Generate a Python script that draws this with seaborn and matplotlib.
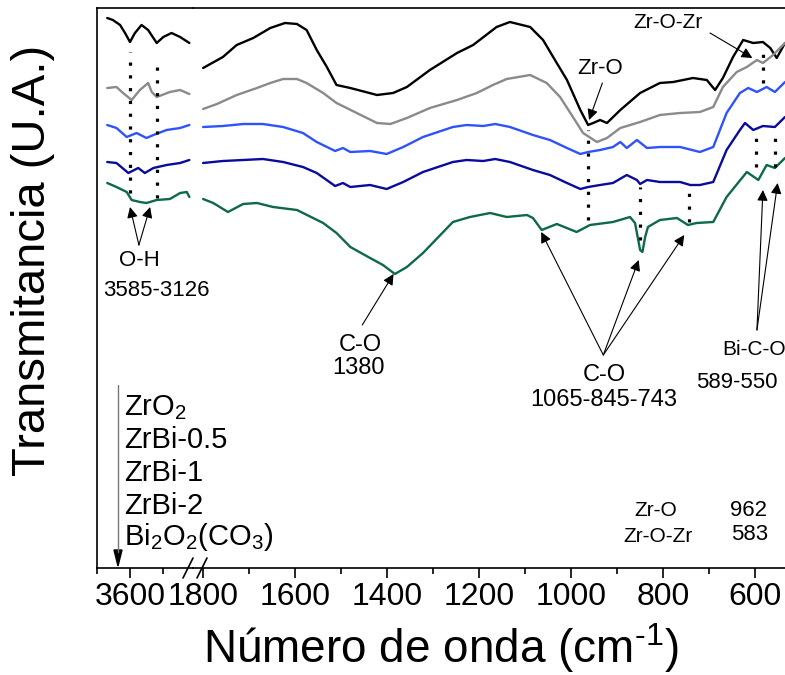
import numpy as np
import pandas as pd
import seaborn as sns
import matplotlib.pyplot as plt
from matplotlib.lines import Line2D
from matplotlib.ticker import MultipleLocator

# Muestras y colores
muestras = ["ZrO$_2$", "ZrBi-0.5", "ZrBi-1", "ZrBi-2", "Bi$_2$O$_2$(CO$_3$)"]
colores = ["#000000", "#8a8a8a", "#2f52ff", "#0a0a9c", "#0c6a44"]

# Tramo principal (1800 - 535 cm-1), transmitancia desplazada (U.A.)
wn_zro2 = [1800, 1757, 1727, 1691, 1654, 1622, 1596, 1575, 1553, 1531, 1510, 1480, 1422, 1387, 1357,
           1307, 1248, 1213, 1162, 1133, 1089, 1061, 1039, 1009, 980, 963, 952, 937, 922, 893, 850,
           807, 778, 735, 705, 687, 670, 648, 626, 604, 583, 567, 553, 535]
t_zro2 = [5.00, 5.11, 5.23, 5.30, 5.40, 5.45, 5.44, 5.38, 5.18, 5.01, 4.83, 4.80, 4.73, 4.75, 4.81,
          4.98, 5.15, 5.23, 5.41, 5.46, 5.41, 5.28, 5.11, 4.88, 4.58, 4.43, 4.45, 4.48, 4.45, 4.58, 4.75,
          4.85, 4.86, 4.90, 4.88, 4.78, 4.90, 5.11, 5.28, 5.25, 5.26, 5.20, 5.10, 5.25]

wn_zrbi05 = [1800, 1770, 1727, 1683, 1654, 1626, 1596, 1575, 1539, 1510, 1466, 1422, 1393, 1357, 1307,
             1248, 1205, 1170, 1140, 1089, 1053, 1024, 996, 974, 944, 922, 893, 850, 807, 763, 720,
             691, 670, 640, 618, 596, 583, 561, 535]
t_zrbi05 = [4.59, 4.64, 4.73, 4.80, 4.85, 4.89, 4.89, 4.85, 4.75, 4.65, 4.55, 4.45, 4.44, 4.50, 4.60,
            4.68, 4.75, 4.83, 4.89, 4.93, 4.85, 4.71, 4.51, 4.35, 4.26, 4.30, 4.40, 4.46, 4.53, 4.55, 4.56,
            4.61, 4.81, 4.96, 5.01, 5.08, 5.05, 5.13, 5.25]

wn_zrbi1 = [1800, 1757, 1713, 1670, 1626, 1583, 1553, 1513, 1496, 1480, 1437, 1401, 1365, 1322, 1257,
            1227, 1191, 1165, 1133, 1083, 1046, 1009, 980, 963, 937, 909, 893, 879, 857, 835, 807,
            763, 720, 691, 662, 633, 615, 596, 575, 557, 535]
t_zrbi1 = [4.41, 4.42, 4.44, 4.44, 4.41, 4.35, 4.26, 4.17, 4.20, 4.16, 4.17, 4.14, 4.21, 4.31, 4.41,
           4.43, 4.42, 4.44, 4.41, 4.33, 4.28, 4.20, 4.14, 4.16, 4.18, 4.21, 4.26, 4.20, 4.28, 4.20, 4.21,
           4.21, 4.16, 4.21, 4.55, 4.75, 4.80, 4.76, 4.81, 4.76, 4.86]

wn_zrbi2 = [1800, 1757, 1713, 1670, 1626, 1583, 1553, 1513, 1496, 1480, 1437, 1401, 1365, 1322, 1257,
            1227, 1191, 1165, 1133, 1083, 1046, 1009, 980, 963, 937, 909, 879, 857, 850, 835, 807,
            763, 741, 720, 691, 662, 633, 622, 604, 583, 557, 535]
t_zrbi2 = [4.05, 4.07, 4.08, 4.09, 4.06, 4.01, 3.95, 3.82, 3.85, 3.81, 3.83, 3.79, 3.86, 3.96, 4.06,
           4.08, 4.07, 4.09, 4.06, 3.98, 3.93, 3.85, 3.79, 3.81, 3.83, 3.85, 3.93, 3.88, 3.84, 3.88, 3.86,
           3.86, 3.83, 3.83, 3.86, 4.18, 4.38, 4.45, 4.38, 4.42, 4.41, 4.51]

wn_bi = [1800, 1778, 1746, 1713, 1683, 1648, 1596, 1539, 1510, 1480, 1437, 1409, 1383, 1357, 1322,
         1257, 1220, 1176, 1140, 1096, 1083, 1064, 1031, 988, 959, 909, 872, 861, 850, 845, 839, 833,
         807, 770, 746, 727, 691, 662, 618, 593, 575, 557, 535]
t_bi = [3.69, 3.65, 3.56, 3.64, 3.65, 3.61, 3.58, 3.45, 3.35, 3.21, 3.10, 3.03, 2.94, 3.01, 3.15,
        3.46, 3.51, 3.55, 3.51, 3.53, 3.50, 3.38, 3.44, 3.36, 3.43, 3.46, 3.51, 3.45, 3.18, 3.16, 3.31, 3.41,
        3.48, 3.50, 3.43, 3.45, 3.46, 3.71, 3.96, 3.88, 4.03, 4.00, 4.10]

# Tramo O-H (3670 - 3420 cm-1)
wnh_zro2 = [3669, 3652, 3630, 3615, 3600, 3585, 3565, 3545, 3519, 3499, 3474, 3448, 3420]
th_zro2 = [5.50, 5.48, 5.43, 5.35, 5.26, 5.35, 5.43, 5.38, 5.25, 5.31, 5.35, 5.31, 5.25]
wnh_zrbi05 = [3669, 3641, 3621, 3595, 3570, 3545, 3534, 3519, 3479, 3448, 3420]
th_zrbi05 = [4.80, 4.81, 4.75, 4.68, 4.78, 4.85, 4.76, 4.71, 4.76, 4.78, 4.74]
wnh_zrbi1 = [3669, 3641, 3610, 3580, 3550, 3529, 3489, 3448, 3420]
th_zrbi1 = [4.43, 4.40, 4.31, 4.35, 4.30, 4.33, 4.38, 4.40, 4.43]
wnh_zrbi2 = [3669, 3641, 3605, 3575, 3555, 3529, 3489, 3448, 3420]
th_zrbi2 = [4.06, 4.05, 3.95, 4.00, 3.95, 4.00, 4.03, 4.05, 4.08]
wnh_bi = [3669, 3641, 3610, 3595, 3570, 3550, 3519, 3479, 3448, 3428, 3420]
th_bi = [3.85, 3.81, 3.76, 3.68, 3.66, 3.65, 3.68, 3.69, 3.75, 3.76, 3.71]

principal = pd.concat([
    pd.DataFrame({"wn": w, "T": t, "muestra": m})
    for w, t, m in zip([wn_zro2, wn_zrbi05, wn_zrbi1, wn_zrbi2, wn_bi],
                       [t_zro2, t_zrbi05, t_zrbi1, t_zrbi2, t_bi], muestras)])
oh = pd.concat([
    pd.DataFrame({"wn": w, "T": t, "muestra": m})
    for w, t, m in zip([wnh_zro2, wnh_zrbi05, wnh_zrbi1, wnh_zrbi2, wnh_bi],
                       [th_zro2, th_zrbi05, th_zrbi1, th_zrbi2, th_bi], muestras)])

# líneas punteadas (wn, y inicial, y final)
marcas_oh = [(3600, 3.75, 5.16), (3519, 3.70, 5.10)]
marcas = [(963, 3.48, 4.38), (850, 3.28, 3.81), (743, 3.46, 3.84),
          (583, 4.85, 5.21), (598, 4.01, 4.38), (557, 4.01, 4.38)]

sns.set_style("ticks")
plt.rcParams["font.family"] = ["Liberation Sans", "DejaVu Sans"]
plt.rcParams["mathtext.fontset"] = "custom"
plt.rcParams["mathtext.rm"] = "Liberation Sans"
plt.rcParams["mathtext.it"] = "Liberation Sans:italic"
plt.rcParams["axes.linewidth"] = 1.2
plt.rcParams["axes.edgecolor"] = "black"
plt.rcParams["xtick.color"] = "black"
plt.rcParams["text.color"] = "black"

fig = plt.figure(figsize=(7.85, 6.75), dpi=100)
ax1 = fig.add_axes([97 / 785, 107 / 675, 96 / 785, 560 / 675])
ax2 = fig.add_axes([193 / 785, 107 / 675, 592 / 785, 560 / 675], sharey=ax1)
ax2.patch.set_alpha(0)

sns.lineplot(data=oh, x="wn", y="T", hue="muestra", palette=colores, hue_order=muestras,
             estimator=None, sort=False, legend=False, linewidth=1.7, ax=ax1)
sns.lineplot(data=principal, x="wn", y="T", hue="muestra", palette=colores, hue_order=muestras,
             estimator=None, sort=False, legend=False, linewidth=1.7, ax=ax2)

for w, y0, y1 in marcas_oh:
    ax1.plot([w, w], [y0, y1], color="black", lw=2.3, ls=(0, (1, 3)))
for w, y0, y1 in marcas:
    ax2.plot([w, w], [y0, y1], color="black", lw=2.3, ls=(0, (1, 3)))

ax1.set_xlim(3700, 3409)
ax2.set_xlim(1822, 535)
ax1.set_ylim(0, 5.60)

ax1.set_xticks([3600])
ax1.set_xticks([3700, 3500], minor=True)
ax2.xaxis.set_major_locator(MultipleLocator(200))
ax2.xaxis.set_minor_locator(MultipleLocator(100))
for ax in (ax1, ax2):
    ax.set_xlabel("")
    ax.set_ylabel("")
    ax.set_yticks([])
    ax.tick_params(axis="x", which="major", direction="out", length=7, width=1.2,
                   labelsize=23, pad=3)
    ax.tick_params(axis="x", which="minor", direction="out", length=4, width=1.2)
ax1.spines["right"].set_visible(False)
ax2.spines["left"].set_visible(False)
ax2.spines["right"].set_visible(False)
ax2.tick_params(axis="y", left=False)

# marcas de corte del eje
for dx in (0, 14):
    fig.add_artist(Line2D([(183 + dx) / 785, (193 + dx) / 785], [97 / 675, 117 / 675],
                          color="black", lw=1.2, transform=fig.transFigure))

flecha = dict(arrowstyle="-|>", color="black", lw=0.8, mutation_scale=16, shrinkA=0, shrinkB=0)

# anotaciones
ax1.text(3573, 3.08, "O-H", ha="center", va="center", fontsize=16)
ax1.text(3520, 2.78, "3585-3126", ha="center", va="center", fontsize=16, clip_on=False)
ax1.annotate("", xy=(3600, 3.61), xytext=(3573, 3.23), arrowprops=flecha)
ax1.annotate("", xy=(3539, 3.61), xytext=(3573, 3.23), arrowprops=flecha)

ax2.text(937, 5.00, "Zr-O", ha="center", va="center", fontsize=16)
ax2.annotate("", xy=(961, 4.48), xytext=(932, 4.85), arrowprops=flecha)
ax2.text(789, 5.46, "Zr-O-Zr", ha="center", va="center", fontsize=15)
ax2.annotate("", xy=(606, 5.10), xytext=(698, 5.35), arrowprops=flecha)

ax2.text(1458, 2.23, "C-O", ha="center", va="center", fontsize=17)
ax2.text(1462, 2.00, "1380", ha="center", va="center", fontsize=17)
ax2.annotate("", xy=(1386, 2.94), xytext=(1454, 2.43), arrowprops=flecha)

ax2.text(928, 1.93, "C-O", ha="center", va="center", fontsize=17)
ax2.text(930, 1.68, "1065-845-743", ha="center", va="center", fontsize=17)
for w, y in [(1065, 3.36), (853, 3.08), (754, 3.33)]:
    ax2.annotate("", xy=(w, y), xytext=(930, 2.13), arrowprops=flecha)

ax2.text(671, 2.18, "Bi-C-O", ha="left", va="center", fontsize=15)
ax2.text(728, 1.85, "589-550", ha="left", va="center", fontsize=16)
for w, y in [(583, 3.78), (551, 3.85)]:
    ax2.annotate("", xy=(w, y), xytext=(596, 2.38), arrowprops=flecha)

ax2.text(815, 0.57, "Zr-O", ha="center", va="center", fontsize=15)
ax2.text(615, 0.58, "962", ha="center", va="center", fontsize=16)
ax2.text(811, 0.31, "Zr-O-Zr", ha="center", va="center", fontsize=15)
ax2.text(611, 0.33, "583", ha="center", va="center", fontsize=16)

# orden de muestras
fig.add_artist(Line2D([118 / 785, 118 / 785], [1 - 385 / 675, 1 - 552 / 675],
                      color="#777777", lw=1.0, transform=fig.transFigure))
fig.patches.append(plt.Polygon([[114 / 785, 1 - 550 / 675], [122 / 785, 1 - 550 / 675],
                                [118 / 785, 1 - 566 / 675]], closed=True, color="black",
                               transform=fig.transFigure))
pos_y = [408, 440, 473, 506, 537]
for etiqueta, py in zip(muestras, pos_y):
    fig.text(124 / 785, 1 - py / 675, etiqueta, ha="left", va="center", fontsize=21)

fig.text(33 / 785, 1 - 260 / 675, "Transmitancia (U.A.)", rotation=90, ha="center",
         va="center", fontsize=34)
fig.text(441 / 785, 1 - 648 / 675, "Número de onda (cm$^{\u2010 1}$)", ha="center", va="center",
         fontsize=33)

fig.savefig("out.png", dpi=100)
